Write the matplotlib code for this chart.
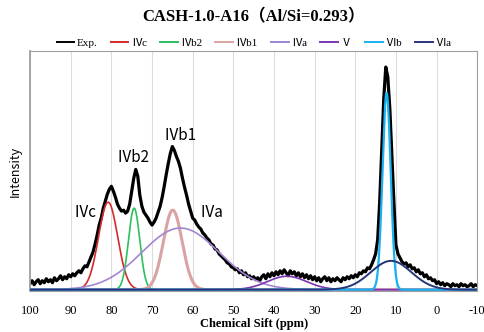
import numpy as np
import matplotlib
matplotlib.use('Agg')
import matplotlib.pyplot as plt

# experimental spectrum, 100 -> -10 ppm every 0.5 ppm (intensity, arb. units)
ppm = np.arange(100, -10.01, -0.5)
exp_int = [
    6, 9, 5, 8, 10, 6, 9, 7, 11, 8,
    10, 7, 12, 9, 11, 14, 10, 13, 11, 15,
    13, 16, 14, 17, 19, 17, 21, 24, 23, 28,
    33, 38, 46, 55, 65, 72, 82, 89, 96, 101,
    104, 99, 93, 86, 82, 79, 80, 77, 79, 86,
    99, 112, 121, 114, 95, 84, 78, 75, 72, 68,
    65, 68, 72, 78, 84, 93, 104, 116, 127, 137,
    144, 140, 134, 129, 122, 112, 103, 95, 86, 79,
    72, 70, 66, 63, 61, 57, 55, 52, 50, 46,
    45, 41, 40, 36, 34, 32, 30, 27, 26, 23,
    22, 20, 21, 17, 19, 15, 17, 13, 14, 11,
    13, 10, 12, 9, 13, 15, 11, 16, 13, 17,
    14, 18, 15, 19, 16, 20, 17, 14, 19, 16,
    18, 14, 17, 13, 16, 12, 15, 11, 14, 10,
    13, 9, 12, 8, 11, 13, 9, 12, 8, 11,
    9, 12, 10, 8, 12, 10, 13, 11, 14, 12,
    15, 13, 17, 16, 19, 18, 22, 21, 25, 30,
    36, 50, 88, 140, 192, 224, 214, 182, 134, 88,
    45, 36, 32, 28, 26, 27, 23, 25, 21, 22,
    18, 20, 16, 17, 13, 15, 11, 12, 9, 10,
    6, 8, 5, 7, 4, 6, 5, 3, 6, 4,
    5, 3, 6, 4, 5, 3, 4, 6, 3, 5,
    4,
]

# fitted gaussian components: name, centre (ppm), height, sigma (ppm)
comp_names = ['Ⅳc', 'Ⅳb2', 'Ⅳb1', 'Ⅳa', 'Ⅴ', 'Ⅵb', 'Ⅵa']
comp_center = [80.8, 74.4, 64.9, 63.0, 36.8, 12.3, 11.2]
comp_height = [88, 82, 80, 62, 13.5, 198, 29]
comp_sigma = [2.35, 1.4, 2.3, 9.5, 4.8, 1.0, 5.0]
comp_colors = ['#d42a2a', '#2cc060', '#d9a3a3', '#a385d2', '#7a35b0', '#1ab2ee', '#26357a']
comp_lw = [1.2, 1.2, 2.2, 1.2, 1.2, 1.6, 1.4]

# peak labels: text, ppm, intensity
lab_text = ['Ⅳc', 'Ⅳb2', 'Ⅳb1', 'Ⅳa']
lab_x = [89.3, 78.7, 67.3, 58.2]
lab_y = [78, 133, 155, 78]

serif = ['Liberation Serif', 'Noto Sans CJK SC']
sans = ['Noto Sans CJK SC', 'DejaVu Sans']

fig = plt.figure(figsize=(4.85, 3.32), dpi=100)
ax = fig.add_axes([0.062, 0.123, 0.922, 0.723])

ax.plot(ppm, exp_int, color='black', lw=2.3, label='Exp.', zorder=2)

xs = np.linspace(100, -10, 2201)
for n, c, h, s, col, lw in zip(comp_names, comp_center, comp_height, comp_sigma, comp_colors, comp_lw):
    ax.plot(xs, h * np.exp(-(xs - c) ** 2 / (2 * s ** 2)), color=col, lw=lw, label=n, zorder=3)

for t, x, y in zip(lab_text, lab_x, lab_y):
    ax.text(x, y, t, fontsize=11, family=sans, va='center', ha='left')

ax.set_xlim(100, -10)
ax.set_ylim(-1.5, 240)
ax.set_xticks(np.arange(100, -11, -10))
ax.set_xticklabels([str(v) for v in range(100, -11, -10)], family=serif, fontsize=9)
ax.set_yticks([])
ax.tick_params(axis='x', length=0, pad=10)
ax.grid(axis='x', color='#dcdcdc', lw=0.8)
ax.set_axisbelow(True)
for sp in ax.spines.values():
    sp.set_color('#a0a0a0')
    sp.set_linewidth(0.8)
ax.spines['left'].set_linewidth(1.3)

ax.set_xlabel('Chemical Sift (ppm)', family=serif, fontsize=9, fontweight='bold', labelpad=1)
ax.set_ylabel('Intensity', family=sans, fontsize=9, labelpad=6)

fig.text(0.522, 0.948, 'CASH-1.0-A16（Al/Si=0.293）', family=serif, fontsize=12,
         fontweight='bold', ha='center', va='center')

leg = ax.legend(loc='lower center', bbox_to_anchor=(0.5, 0.99), ncol=8, frameon=False,
                prop={'family': serif, 'size': 8}, handlelength=1.6, handletextpad=0.2,
                columnspacing=1.2, borderaxespad=0.1)
for h in leg.get_lines():
    h.set_linewidth(1.4)

fig.savefig('out.png', dpi=100)
